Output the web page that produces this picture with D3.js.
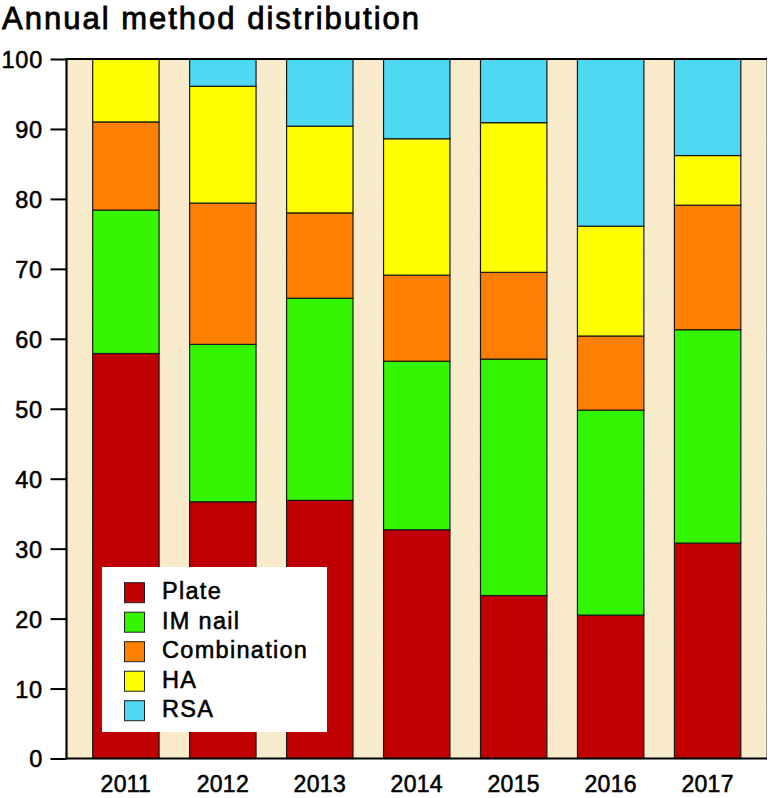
<!DOCTYPE html>
<html>
<head>
<meta charset="utf-8">
<script src="https://cdn.jsdelivr.net/npm/d3@7"></script>
<style>
  html, body { margin: 0; padding: 0; background: #ffffff; }
  svg { display: block; }
  text { font-family: "Liberation Sans", Arial, Helvetica, sans-serif; fill: #000; stroke: #000; stroke-width: 0.55px; }
</style>
</head>
<body>
<svg id="chart" width="768" height="798"></svg>
<script>
// ---- data ----
const years = ["2011", "2012", "2013", "2014", "2015", "2016", "2017"];
const methods = ["Plate", "IM nail", "Combination", "HA", "RSA"];
const plate       = [57.9, 36.7, 36.9, 32.7, 23.3, 20.5, 30.8];
const imNail      = [20.5, 22.5, 28.9, 24.1, 33.8, 29.3, 30.5];
const combination = [12.6, 20.2, 12.2, 12.3, 12.4, 10.6, 17.8];
const ha          = [ 9.0, 16.7, 12.4, 19.5, 21.4, 15.7,  7.1];
const rsa         = [ 0.0,  3.9,  9.6, 11.4,  9.1, 23.9, 13.8];
const yTicks = [0, 10, 20, 30, 40, 50, 60, 70, 80, 90, 100];
const colors = ["#c00000", "#33f500", "#ff7f00", "#ffff00", "#4ed8f2"];
const title = "Annual method distribution";

// ---- build table ----
const seriesArrays = [plate, imNail, combination, ha, rsa];
const table = years.map((y, i) => {
  const row = { year: y };
  methods.forEach((m, j) => { row[m] = seriesArrays[j][i]; });
  return row;
});
const stacked = d3.stack().keys(methods)(table);

// ---- layout ----
const svg = d3.select("#chart");
const plotLeft = 66.5, plotRight = 767, plotTop = 59, plotBottom = 758.5;

const x = d3.scaleBand().domain(years).range([plotLeft, plotRight])
  .paddingInner(0.315).paddingOuter(0.27);
const y = d3.scaleLinear().domain([0, 100]).range([plotBottom, plotTop]);
const color = d3.scaleOrdinal().domain(methods).range(colors);

// textured background
const defs = svg.append("defs");
const filt = defs.append("filter").attr("id", "grain")
  .attr("x", 0).attr("y", 0).attr("width", "100%").attr("height", "100%");
filt.append("feTurbulence").attr("type", "fractalNoise")
  .attr("baseFrequency", 0.9).attr("numOctaves", 2).attr("seed", 3).attr("result", "noise");
filt.append("feColorMatrix").attr("in", "noise").attr("type", "matrix")
  .attr("values", "0 0 0 0 0.6  0 0 0 0 0.5  0 0 0 0 0.25  0 0 0 0.12 0").attr("result", "tint");
filt.append("feComposite").attr("in", "tint").attr("in2", "SourceGraphic").attr("operator", "in");

svg.append("rect")
  .attr("x", plotLeft).attr("y", plotTop)
  .attr("width", plotRight - plotLeft).attr("height", plotBottom - plotTop)
  .attr("fill", "#faedcd");
svg.append("rect")
  .attr("x", plotLeft).attr("y", plotTop)
  .attr("width", plotRight - plotLeft).attr("height", plotBottom - plotTop)
  .attr("fill", "#faedcd")
  .attr("filter", "url(#grain)")
  .attr("opacity", 0.45);

// bars
svg.append("g").selectAll("g")
  .data(stacked)
  .join("g")
  .attr("fill", d => color(d.key))
  .selectAll("rect")
  .data(d => d.filter(s => s[1] - s[0] > 0))
  .join("rect")
  .attr("x", d => x(d.data.year))
  .attr("y", d => y(d[1]))
  .attr("width", x.bandwidth())
  .attr("height", d => y(d[0]) - y(d[1]))
  .attr("stroke", "#1a1a1a")
  .attr("stroke-width", 1.2);

// right border (faint)
svg.append("line")
  .attr("x1", plotRight - 0.5).attr("x2", plotRight - 0.5)
  .attr("y1", plotTop).attr("y2", plotBottom)
  .attr("stroke", "#999").attr("stroke-width", 1);

// top border
svg.append("line")
  .attr("x1", plotLeft).attr("x2", plotRight)
  .attr("y1", plotTop).attr("y2", plotTop)
  .attr("stroke", "#000").attr("stroke-width", 2.2);

// y axis
const yAxis = svg.append("g")
  .attr("transform", `translate(${plotLeft},0)`)
  .call(d3.axisLeft(y).tickValues(yTicks).tickSize(16).tickPadding(7.5).tickFormat(d3.format("d")));
yAxis.attr("font-family", null).attr("font-size", null);
yAxis.select(".domain").attr("stroke", "#000").attr("stroke-width", 2.2)
  .attr("d", `M0,${plotTop - 1}V${plotBottom + 1}`);
yAxis.selectAll(".tick line").attr("stroke", "#000").attr("stroke-width", 2);
yAxis.selectAll(".tick text").style("font-size", "23.5px").attr("dy", "0.36em")
  .style("letter-spacing", "0.8px");

// x axis
const xAxis = svg.append("g")
  .attr("transform", `translate(0,${plotBottom})`)
  .call(d3.axisBottom(x).tickSize(0).tickPadding(0));
xAxis.attr("font-family", null).attr("font-size", null);
xAxis.select(".domain").attr("stroke", "#000").attr("stroke-width", 2.2)
  .attr("d", `M${plotLeft},0H${plotRight}`);
xAxis.selectAll(".tick text").style("font-size", "23px").attr("y", 33).attr("dy", 0)
  .style("letter-spacing", "0.3px");

// legend
const lg = svg.append("g").attr("transform", "translate(102,567)");
lg.append("rect").attr("width", 225).attr("height", 165).attr("fill", "#ffffff");
const rowY = d3.scalePoint().domain(methods).range([25.7, 143.7]);
const items = lg.selectAll("g.item").data(methods).join("g").attr("class", "item")
  .attr("transform", d => `translate(0,${rowY(d)})`);
items.append("rect")
  .attr("x", 22.5).attr("y", -10).attr("width", 20).attr("height", 20)
  .attr("fill", d => color(d)).attr("stroke", "#222").attr("stroke-width", 1);
items.append("text")
  .attr("x", 60).attr("y", 6.5)
  .style("font-size", "23.5px")
  .style("letter-spacing", "1.3px")
  .text(d => d);

// title
svg.append("text")
  .attr("x", 2).attr("y", 28.5)
  .style("font-size", "31px")
  .style("letter-spacing", "2px")
  .style("stroke-width", "0.8px")
  .text(title);
</script>
</body>
</html>
